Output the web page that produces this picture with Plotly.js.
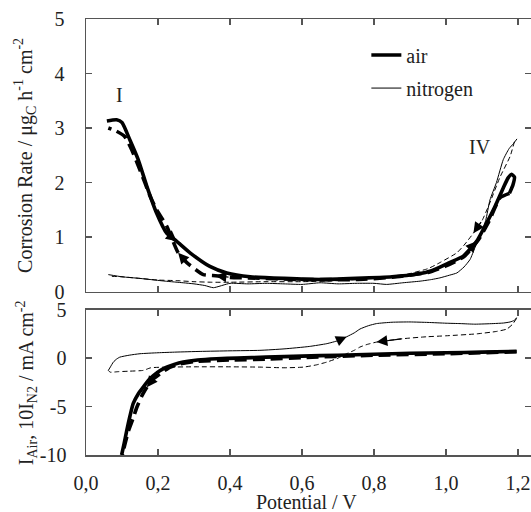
<!DOCTYPE html>
<html>
<head>
<meta charset="utf-8">
<script src="https://cdn.plot.ly/plotly-3.0.1.min.js"></script>
<style>html,body{margin:0;padding:0;background:#fff;}#chart{width:531px;height:512px;}</style>
</head>
<body>
<div id="chart"></div>
<script>
// ---- Top panel: corrosion rate ----
const airFwdX = [0.058,0.085,0.100,0.122,0.145,0.169,0.196,0.224,0.252,0.289,0.344,0.391,0.456,0.55,0.65,0.75,0.85,0.92,0.96,1.01,1.048,1.085,1.113,1.136,1.159,1.172,1.182,1.19,1.186,1.176];
const airFwdY = [3.13,3.15,3.10,2.78,2.42,1.93,1.44,1.07,0.92,0.71,0.46,0.34,0.27,0.24,0.22,0.24,0.27,0.32,0.38,0.53,0.65,0.92,1.26,1.56,1.90,2.08,2.15,2.10,1.96,1.80];
const airRevX = [1.176,1.15,1.12,1.09,1.05,1.00,0.95,0.85,0.75,0.60,0.45,0.40,0.36,0.326,0.28,0.256,0.224,0.196,0.178,0.150,0.127,0.108,0.085,0.062];
const airRevY = [1.80,1.72,1.30,0.95,0.64,0.47,0.35,0.26,0.22,0.22,0.25,0.26,0.29,0.31,0.53,0.71,1.20,1.50,1.75,2.23,2.60,2.84,2.94,3.00];
const n2FwdX = [0.062,0.10,0.15,0.178,0.22,0.27,0.30,0.33,0.354,0.40,0.45,0.50,0.55,0.60,0.65,0.70,0.75,0.80,0.835,0.88,0.928,0.96,0.983,1.01,1.03,1.05,1.067,1.08,1.094,1.11,1.122,1.14,1.159,1.175,1.188,1.197];
const n2FwdY = [0.31,0.27,0.24,0.22,0.19,0.16,0.14,0.11,0.07,0.15,0.14,0.15,0.14,0.13,0.16,0.14,0.15,0.15,0.13,0.16,0.19,0.22,0.25,0.30,0.34,0.45,0.59,0.80,1.01,1.30,1.68,2.00,2.42,2.62,2.72,2.80];
const n2RevX = [1.19,1.178,1.15,1.12,1.10,1.076,1.05,1.03,0.983,0.95,0.90,0.85,0.80,0.70,0.60,0.50,0.40,0.35,0.30,0.25,0.20,0.15,0.10,0.065];
const n2RevY = [2.75,2.48,2.10,1.60,1.30,1.07,0.85,0.71,0.53,0.42,0.33,0.27,0.24,0.20,0.18,0.18,0.17,0.17,0.18,0.20,0.21,0.24,0.27,0.28];

// ---- Bottom panel: current ----
const iAirFwdX = [0.099,0.106,0.113,0.122,0.131,0.145,0.159,0.173,0.187,0.205,0.224,0.245,0.27,0.31,0.363,0.42,0.50,0.60,0.70,0.80,0.90,1.00,1.10,1.196];
const iAirFwdY = [-10,-8.8,-7.5,-6.0,-4.7,-3.7,-3.0,-2.3,-1.8,-1.3,-0.93,-0.65,-0.41,-0.2,-0.07,0.0,0.1,0.2,0.3,0.4,0.5,0.55,0.62,0.69];
const iAirRevX = [1.196,1.00,0.80,0.60,0.50,0.40,0.30,0.26,0.23,0.206,0.185,0.169,0.155,0.141,0.13,0.118,0.11,0.104,0.101];
const iAirRevY = [0.65,0.45,0.30,0.05,-0.1,-0.2,-0.35,-0.6,-1.0,-1.6,-2.2,-3.0,-3.9,-5.1,-6.3,-7.5,-8.6,-9.5,-10];
const iN2FwdX = [0.062,0.068,0.076,0.085,0.094,0.12,0.15,0.20,0.25,0.317,0.40,0.483,0.55,0.62,0.669,0.70,0.724,0.745,0.761,0.785,0.807,0.85,0.90,0.95,1.00,1.039,1.08,1.131,1.16,1.178,1.19,1.196];
const iN2FwdY = [-1.27,-0.9,-0.41,-0.1,0.1,0.3,0.45,0.55,0.62,0.69,0.75,0.8,0.95,1.2,1.49,1.8,2.2,2.6,3.0,3.35,3.56,3.7,3.73,3.68,3.6,3.56,3.5,3.56,3.62,3.73,3.9,4.18];
const iN2RevX = [1.196,1.185,1.169,1.14,1.085,1.00,0.946,0.88,0.807,0.78,0.761,0.745,0.724,0.70,0.669,0.64,0.604,0.55,0.483,0.40,0.30,0.224,0.18,0.159,0.12,0.09,0.067,0.062];
const iN2RevY = [4.1,3.5,3.0,2.75,2.5,2.3,2.2,2.0,1.65,1.4,1.14,0.8,0.45,0.0,-0.41,-0.7,-0.93,-1.0,-0.93,-0.9,-0.9,-0.93,-1.0,-1.27,-1.35,-1.4,-1.45,-1.27];

const seriesNames = ['air', 'nitrogen'];
const xTicks = [0, 0.2, 0.4, 0.6, 0.8, 1.0, 1.2];
const yTopTicks = [0, 1, 2, 3, 4, 5];
const yBotTicks = [-10, -5, 0, 5];
const yBotTickText = ['-10', '-5', '0', '5'];
const xTitle = 'Potential / V';
const yTopTitle = 'Corrosion Rate / μg<sub>C</sub> h<sup>-1</sup> cm<sup>-2</sup>';
const yBotTitle = 'I<sub>Air</sub>, 10I<sub>N2</sub> / mA cm<sup>-2</sup>';

const FONT = 'Liberation Serif, serif';
const TXT = '#222';
const thick = {color:'#000', width:3.6};
const thin = {color:'#000', width:1};

function tr(x, y, line, dash, xa, ya, name, show, grp) {
  return {x:x, y:y, type:'scatter', mode:'lines', xaxis:xa, yaxis:ya,
    line:Object.assign({}, line, {dash:dash, shape:'spline', smoothing:0.5}),
    name:name||'', showlegend:!!show, legendgroup:grp||undefined, hoverinfo:'skip'};
}

const data = [
  tr(airRevX, airRevY, thick, '12px,6px', 'x', 'y'),
  tr(n2RevX, n2RevY, thin, '5px,3px', 'x', 'y'),
  tr(n2FwdX, n2FwdY, thin, 'solid', 'x', 'y', seriesNames[1], true, 'n2'),
  tr(airFwdX, airFwdY, thick, 'solid', 'x', 'y', seriesNames[0], true, 'air'),
  tr(iAirRevX, iAirRevY, thick, '12px,6px', 'x2', 'y2'),
  tr(iN2RevX, iN2RevY, thin, '5px,3px', 'x2', 'y2'),
  tr(iN2FwdX, iN2FwdY, thin, 'solid', 'x2', 'y2'),
  tr(iAirFwdX, iAirFwdY, thick, 'solid', 'x2', 'y2'),
];
data[2].legendrank = 2; data[3].legendrank = 1;

function arrowAt(xs, ys, i, xr, yr) {
  return {x:xs[i], y:ys[i], ax:xs[i-1], ay:ys[i-1], xref:xr, yref:yr, axref:xr, ayref:yr,
    text:'', showarrow:true, arrowhead:2, arrowsize:1.8, arrowwidth:1.2, arrowcolor:'#000', standoff:0};
}
function label(text, x, y, angle) {
  return {text:text, x:x, y:y, xref:'paper', yref:'paper', xanchor:'center', yanchor:'middle',
    textangle:angle||0, showarrow:false, font:{family:FONT, size:20, color:TXT}};
}

const axBase = {
  showline:true, linecolor:'#555', linewidth:1.5, mirror:'ticks', ticks:'inside',
  ticklen:6, tickcolor:'#555', tickwidth:1.2, showgrid:false, zeroline:false,
  tickfont:{family:FONT, size:20, color:TXT}
};
const xRange = [0, 1.236];

const layout = {
  width:531, height:512,
  margin:{l:86, r:0, t:19, b:57},
  paper_bgcolor:'#fff', plot_bgcolor:'#fff',
  separators:', ',
  font:{family:FONT, color:TXT},
  showlegend:true,
  legend:{x:0.63, y:0.962, xanchor:'left', yanchor:'top', bgcolor:'rgba(0,0,0,0)',
    font:{family:FONT, size:20, color:TXT}, itemwidth:30, traceorder:'grouped', tracegroupgap:4},
  xaxis:Object.assign({}, axBase, {domain:[0,1], anchor:'y', range:xRange, tickvals:xTicks, showticklabels:false}),
  yaxis:Object.assign({}, axBase, {domain:[0.375,1], anchor:'x', range:[0,5], tickvals:yTopTicks, ticklabelstandoff:16}),
  xaxis2:Object.assign({}, axBase, {domain:[0,1], anchor:'y2', range:xRange, tickvals:xTicks, tickformat:'.1f', ticklabelstandoff:9}),
  yaxis2:Object.assign({}, axBase, {domain:[0,0.3334], anchor:'x2', range:[-10,5], tickvals:yBotTicks, ticktext:yBotTickText, ticklabelstandoff:14}),
  annotations:[
    label(xTitle, 0.4955, -0.107, 0),
    label(yTopTitle, -0.137, 0.686, -90),
    label(yBotTitle, -0.1326, 0.167, -90),
    {x:0.092, y:3.6, xref:'x', yref:'y', text:'I', showarrow:false, font:{family:FONT, size:20, color:TXT}},
    {x:1.094, y:2.66, xref:'x', yref:'y', text:'IV', showarrow:false, font:{family:FONT, size:20, color:TXT}},
    arrowAt(airFwdX, airFwdY, 8, 'x', 'y'),
    arrowAt(airFwdX, airFwdY, 21, 'x', 'y'),
    arrowAt(airRevX, airRevY, 15, 'x', 'y'),
    arrowAt(airRevX, airRevY, 12, 'x', 'y'),
    arrowAt(n2RevX, n2RevY, 5, 'x', 'y'),
    arrowAt(iAirRevX, iAirRevY, 11, 'x2', 'y2'),
    arrowAt(iN2FwdX, iN2FwdY, 16, 'x2', 'y2'),
    arrowAt(iN2RevX, iN2RevY, 8, 'x2', 'y2'),
  ]
};

Plotly.newPlot('chart', data, layout, {staticPlot:true, displayModeBar:false});
</script>
</body>
</html>
